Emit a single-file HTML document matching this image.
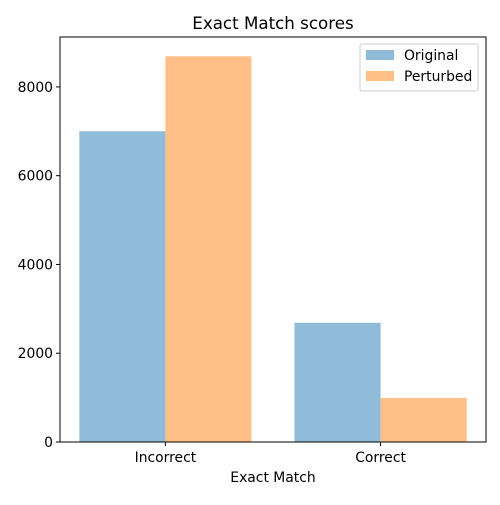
<!DOCTYPE html>
<html><head><meta charset="utf-8"><style>
body{margin:0;background:#fff;}
svg{font-family:"DejaVu Sans","Liberation Sans",sans-serif;}
</style></head><body>
<svg id="chart" width="500" height="500" viewBox="0 0 500 500">
<rect x="0" y="0" width="500" height="500" fill="#fff"/>
<text x="273" y="29" font-size="16.7" text-anchor="middle">Exact Match scores</text>
<g id="bars"></g>
<g id="axes"></g>
<text x="273" y="482" font-size="13.9" text-anchor="middle">Exact Match</text>
<g>
<rect x="360" y="44" width="118" height="47" fill="#fff" fill-opacity="0.8" stroke="#ccc" rx="2"/>
<rect x="366" y="50" width="28" height="10" fill="#8fbbd9"/>
<text x="404" y="60" font-size="13.9">Original</text>
<rect x="366" y="71" width="28" height="10" fill="#ffbf86"/>
<text x="404" y="81" font-size="13.9">Perturbed</text>
</g>
</svg>
<script>
const categories = ["Incorrect", "Correct"];
const originalValues = [7000, 2686];
const perturbedValues = [8690, 993];
const yTicks = [0, 2000, 4000, 6000, 8000];

const L=60,R=486,T=37,B=442;
const yMax=Math.max(...originalValues,...perturbedValues)*1.05;
const xMin=-0.49,xMax=1.49;
const xs=v=>L+(v-xMin)/(xMax-xMin)*(R-L);
const ys=v=>B-v/yMax*(B-T);
const NS="http://www.w3.org/2000/svg";
const bars=document.getElementById('bars'), axes=document.getElementById('axes');
function mk(tag,attrs,parent){const e=document.createElementNS(NS,tag);for(const k in attrs)e.setAttribute(k,attrs[k]);parent.appendChild(e);return e;}
categories.forEach((c,i)=>{
  const a=mk('rect',{x:xs(i-0.4),y:ys(originalValues[i]),width:xs(i)-xs(i-0.4),height:B-ys(originalValues[i]),fill:'#8fbbd9'},bars);
  
  
  const b=mk('rect',{x:xs(i),y:ys(perturbedValues[i]),width:xs(i+0.4)-xs(i),height:B-ys(perturbedValues[i]),fill:'#ffbf86'},bars);
  
  
  const t=mk('line',{x1:xs(i),x2:xs(i),y1:B,y2:B+4,stroke:'#000'},axes);
  
  
  const l=mk('text',{x:xs(i),y:B+20,'font-size':13.9,'text-anchor':'middle'},axes);
  l.textContent=c;
  
  
});
yTicks.forEach(v=>{
  const t=mk('line',{x1:L-4,x2:L,y1:ys(v),y2:ys(v),stroke:'#000'},axes);
  
  
  const l=mk('text',{x:L-7,y:ys(v)+5,'font-size':13.9,'text-anchor':'end'},axes);
  l.textContent=v;
  
  
});
const f=mk('rect',{x:L,y:T,width:R-L,height:B-T,fill:'none',stroke:'#000','stroke-width':1},axes);


</script>
</body></html>
